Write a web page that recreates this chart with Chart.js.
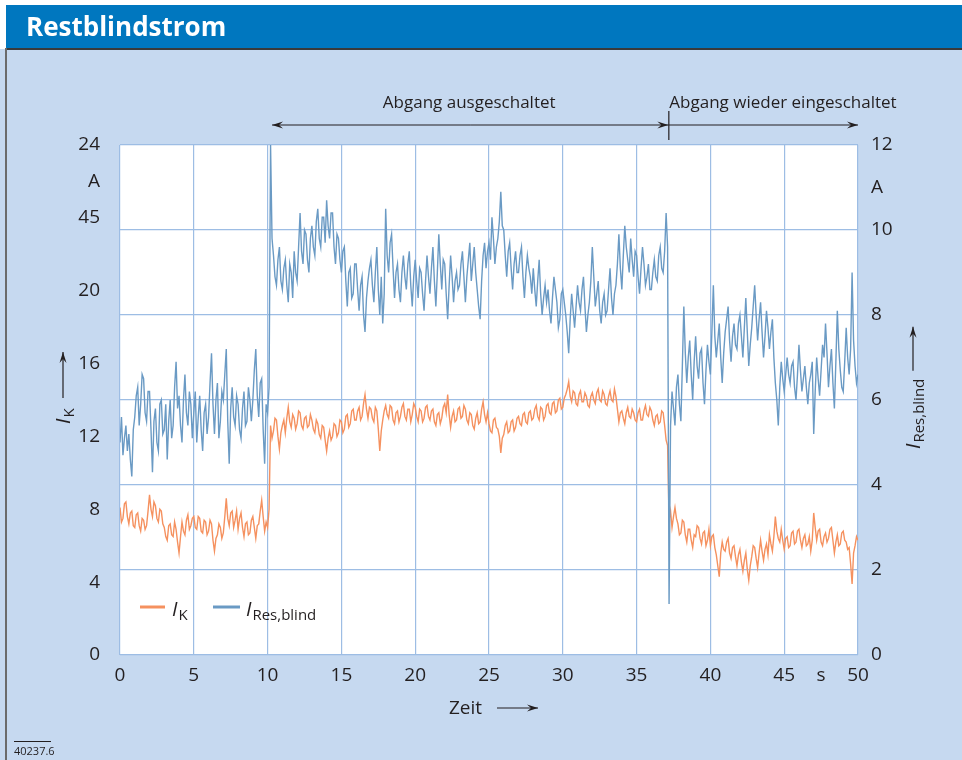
<!DOCTYPE html>
<html>
<head>
<meta charset="utf-8">
<script src="https://cdn.jsdelivr.net/npm/chart.js@4.4.1/dist/chart.umd.min.js"></script>
<style>
  html, body { margin: 0; padding: 0; overflow: hidden; background: #c6d9f0; }
  #wrap { width: 962px; height: 760px; position: relative; }
</style>
</head>
<body>
<div id="wrap"><canvas id="grafico"></canvas></div>
<script>
// Abtastschritt der Messung in s
const zeitSchritt = 0.1;

// I_Res,blind in A (rechte Achse), eine Zeile je Sekunde
const iResBlind = [
  5.0, 5.6, 4.7, 5.1, 5.4, 4.8, 5.2, 4.6, 4.2, 5.3,
  5.6, 6.1, 6.3, 5.4, 5.9, 6.6, 6.5, 5.7, 5.5, 6.2,
  6.2, 5.3, 4.3, 5.5, 5.8, 5.0, 4.8, 5.9, 6.0, 5.2,
  5.3, 5.9, 4.6, 5.5, 6.0, 5.1, 5.4, 6.3, 6.9, 5.8,
  6.1, 5.4, 5.0, 6.0, 6.6, 5.7, 5.4, 6.2, 5.9, 5.1,
  5.7, 6.2, 5.0, 5.6, 6.1, 5.3, 4.8, 5.7, 5.9, 5.2,
  5.6, 6.4, 7.1, 5.9, 5.2, 6.0, 6.4, 5.1, 5.5, 6.2,
  6.0, 6.6, 7.2, 5.5, 4.5, 5.8, 6.3, 5.6, 5.4, 6.1,
  5.9, 5.3, 5.1, 5.8, 6.2, 5.4, 5.5, 6.3, 6.0, 5.5,
  6.0, 6.7, 7.2, 6.1, 5.6, 6.4, 6.5, 5.3, 4.5, 5.9,
  5.7, 6.3, 12.0, 9.8, 9.4, 8.9, 8.7, 9.3, 9.6, 8.8,
  8.6, 9.1, 9.3, 8.7, 8.3, 9.2, 9.0, 8.4, 9.5, 9.0,
  8.8, 9.6, 10.4, 9.5, 9.2, 10.0, 9.9, 9.3, 9.0, 9.8,
  10.1, 9.6, 9.4, 10.2, 10.5, 9.8, 9.6, 10.3, 10.3, 9.7,
  10.7, 10.1, 9.8, 10.4, 10.4, 9.6, 9.2, 9.9, 9.8, 9.3,
  9.0, 9.5, 9.6, 8.8, 8.2, 9.0, 9.1, 8.4, 8.5, 9.2,
  9.2, 8.6, 8.1, 8.7, 8.9, 8.0, 7.6, 8.4, 8.8, 9.1,
  9.3, 8.7, 8.3, 9.0, 9.6, 8.6, 8.0, 8.9, 7.8, 8.5,
  10.5, 9.4, 9.0, 9.7, 9.9, 9.1, 8.4, 9.0, 9.2, 8.6,
  8.3, 9.0, 9.4, 8.9, 8.6, 9.2, 9.5, 8.7, 8.2, 8.9,
  9.3, 8.8, 8.4, 9.1, 9.0, 8.5, 8.1, 8.8, 9.4, 8.9,
  8.5, 9.1, 9.6, 8.8, 8.2, 9.0, 9.9, 9.2, 8.6, 9.3,
  9.2, 8.5, 7.9, 8.7, 9.4, 8.9, 8.3, 8.8, 9.0, 8.6,
  8.7, 9.2, 9.5, 8.9, 8.3, 8.9, 9.3, 9.7, 8.8, 9.2,
  9.6, 9.0, 8.6, 8.2, 7.9, 8.8, 9.4, 9.7, 9.1, 9.5,
  9.7, 9.3, 10.3, 9.8, 9.2, 9.6, 9.8, 10.2, 10.9, 10.1,
  10.0, 9.4, 8.9, 9.5, 9.7, 9.1, 8.6, 9.2, 9.5, 9.0,
  9.0, 9.4, 9.6, 8.9, 8.4, 9.0, 9.4, 9.1, 8.9, 8.5,
  9.1, 8.6, 8.2, 8.8, 9.3, 8.5, 8.0, 8.4, 8.7, 8.3,
  8.6, 8.1, 7.8, 8.4, 8.9, 8.6, 8.3, 7.7, 7.9, 8.5,
  8.6, 8.3, 8.0, 7.6, 7.1, 7.9, 8.5, 8.1, 7.7, 8.2,
  8.7, 8.3, 8.1, 8.6, 8.9, 8.2, 7.6, 8.0, 8.3, 8.8,
  9.6, 8.9, 8.2, 8.5, 8.8, 8.1, 7.8, 8.3, 8.5, 8.0,
  8.1, 8.6, 9.1, 8.4, 8.0, 8.5, 8.7, 9.2, 9.9, 9.1,
  8.6, 9.4, 10.1, 9.6, 9.3, 9.0, 9.8, 9.3, 8.9, 9.5,
  9.4, 8.9, 8.5, 9.1, 9.6, 9.2, 8.7, 8.9, 9.2, 8.6,
  8.6, 9.0, 9.3, 8.9, 8.8, 9.4, 9.6, 9.1, 9.0, 9.5,
  10.4, 9.6, 1.2, 5.4, 6.2, 5.8, 5.4, 6.3, 6.6, 5.9,
  5.5, 6.8, 8.2, 7.1, 6.4, 7.0, 7.4, 6.6, 6.0, 6.9,
  7.5, 6.8, 6.5, 7.1, 7.2, 6.4, 5.9, 6.7, 7.3, 6.9,
  6.6, 7.6, 8.7, 7.5, 7.0, 7.4, 7.8, 7.0, 6.4, 7.1,
  7.6, 7.9, 8.2, 7.4, 6.9, 7.5, 7.8, 7.3, 7.2, 7.8,
  8.0, 7.5, 7.0, 7.7, 8.4, 7.6, 6.8, 7.3, 7.7, 8.2,
  8.7, 8.0, 7.4, 7.9, 8.3, 7.6, 7.0, 7.5, 8.1, 7.7,
  7.2, 7.6, 7.9, 7.0, 6.4, 6.0, 5.4, 6.3, 6.9, 6.5,
  6.2, 6.6, 7.0, 6.6, 6.4, 6.8, 6.9, 6.3, 6.0, 6.6,
  7.3, 6.7, 6.2, 6.5, 6.8, 6.3, 5.9, 6.4, 6.6, 6.9,
  5.2, 6.2, 7.0, 6.5, 6.1, 6.7, 7.3, 7.0, 7.8, 7.1,
  6.3, 6.8, 7.2, 6.4, 5.8, 6.9, 8.1, 7.2, 6.7, 6.3,
  6.2, 6.9, 7.7, 7.0, 6.6, 7.2, 9.0, 7.4, 6.8, 6.4,
  6.6
];

// I_K in A (linke Achse), eine Zeile je Sekunde
const iK = [
  8.1, 7.3, 7.5, 8.3, 8.4, 7.6, 7.2, 7.8, 7.9, 7.1,
  7.0, 7.7, 7.8, 7.1, 6.8, 7.5, 7.4, 6.9, 7.1, 7.9,
  8.8, 8.0, 7.6, 8.4, 8.2, 7.5, 7.3, 8.0, 7.9, 7.2,
  7.0, 6.5, 6.3, 7.1, 7.2, 6.6, 6.5, 7.3, 6.9, 6.2,
  5.6, 6.5, 7.3, 6.8, 6.6, 7.4, 7.7, 6.9, 7.1, 7.5,
  7.6, 7.0, 6.9, 7.6, 7.5, 6.8, 6.7, 7.4, 7.3, 6.6,
  6.8, 7.4, 7.2, 6.3, 5.7, 6.4, 6.6, 7.2, 7.0, 6.4,
  6.7, 7.6, 8.6, 7.5, 7.1, 7.8, 7.9, 7.0, 7.4, 7.9,
  6.9, 7.5, 7.8, 7.0, 6.5, 7.2, 7.3, 6.6, 6.7, 7.4,
  7.6, 7.0, 6.4, 7.1, 7.2, 7.9, 8.5, 7.6, 6.8, 7.3,
  7.0, 8.0, 12.6, 11.9, 12.3, 13.0, 12.9, 12.0, 11.3, 12.2,
  12.6, 12.9, 12.2, 13.0, 13.6, 12.8, 12.5, 13.2, 13.0, 12.4,
  12.7, 13.4, 13.3, 12.6, 12.4, 13.0, 13.1, 12.5, 12.6, 13.2,
  12.9, 12.4, 12.2, 12.9, 12.7, 12.1, 11.9, 12.6, 12.5, 11.8,
  11.2, 11.9, 12.3, 11.8, 12.0, 12.7, 12.6, 12.0, 12.2, 12.9,
  12.8, 12.2, 12.4, 13.1, 13.2, 12.5, 12.7, 13.4, 13.5, 12.9,
  12.9, 13.4, 13.6, 12.9, 13.1, 13.8, 14.3, 13.5, 13.0, 13.6,
  13.5, 13.0, 12.8, 13.6, 13.4, 12.4, 11.2, 12.3, 12.9, 13.4,
  13.7, 13.2, 13.0, 13.7, 13.6, 12.9, 12.7, 13.3, 13.4, 12.8,
  13.1, 13.6, 13.8, 13.1, 12.9, 13.5, 13.5, 12.8, 13.2, 13.8,
  13.6, 13.1, 12.8, 13.5, 13.4, 12.8, 13.0, 13.6, 13.7, 13.1,
  12.9, 13.4, 13.5, 12.8, 12.6, 13.2, 13.3, 12.7, 13.0, 13.6,
  13.8, 13.3, 14.3, 13.2, 12.5, 13.1, 13.4, 12.8, 12.9, 13.5,
  13.6, 13.0, 13.1, 13.7, 13.5, 12.9, 12.7, 13.3, 13.2, 12.6,
  12.4, 13.0, 13.3, 12.7, 12.8, 13.5, 13.9, 13.2, 12.8, 13.3,
  12.7, 12.3, 12.2, 12.9, 13.0, 12.5, 12.4, 12.0, 11.1, 11.9,
  12.1, 12.6, 12.8, 12.2, 12.3, 12.8, 12.9, 12.3, 12.5, 13.0,
  13.1, 12.7, 12.6, 13.2, 13.3, 12.8, 12.7, 13.3, 13.4, 12.9,
  13.0, 13.5, 13.7, 13.1, 12.9, 13.6, 13.5, 12.9, 13.1, 13.7,
  13.8, 13.3, 13.2, 13.8, 13.9, 13.3, 13.4, 14.0, 14.1, 13.5,
  13.6, 14.1, 14.3, 14.6, 15.0, 14.2, 13.9, 14.5, 14.4, 13.8,
  13.7, 14.3, 14.5, 13.9, 13.9, 14.4, 14.2, 13.7, 13.6, 14.2,
  14.4, 14.0, 13.8, 14.4, 14.6, 14.0, 13.9, 14.5, 14.3, 13.8,
  13.7, 14.2, 14.5, 14.0, 13.9, 14.6, 14.2, 13.5, 12.8, 13.3,
  13.4, 13.0, 12.7, 13.3, 13.6, 13.1, 13.0, 13.5, 13.3, 12.9,
  12.8, 13.3, 13.5, 12.9, 12.9, 13.4, 13.7, 13.2, 13.1, 13.6,
  13.4, 12.9, 12.6, 13.1, 13.2, 12.7, 12.8, 13.4, 13.3, 12.6,
  11.8, 11.5, 7.4, 7.9, 7.0, 7.6, 8.1, 7.5, 7.2, 6.6,
  6.7, 7.4, 7.3, 6.6, 6.2, 6.9, 6.9, 6.3, 5.9, 6.6,
  6.5, 7.1, 7.0, 6.4, 6.1, 6.7, 6.8, 6.0, 6.3, 6.9,
  6.0, 6.5, 6.6, 5.9, 5.5, 4.9, 4.3, 5.6, 6.2, 5.8,
  5.7, 6.2, 6.4, 5.6, 5.3, 5.9, 6.0, 5.4, 4.9, 5.5,
  5.8, 5.1, 4.6, 5.2, 5.6, 4.7, 4.1, 4.9, 5.4, 6.0,
  5.9, 5.3, 4.8, 5.6, 6.3, 5.7, 5.2, 5.8, 6.1, 5.5,
  6.6, 6.1, 5.7, 6.5, 7.6, 6.8, 6.4, 6.2, 6.9, 6.3,
  5.8, 6.4, 6.5, 5.9, 6.0, 6.7, 6.8, 6.1, 6.2, 6.8,
  6.9, 6.3, 5.9, 6.4, 6.6, 6.0, 6.1, 6.5, 5.7, 6.3,
  7.8, 7.0, 6.3, 6.8, 6.9, 6.2, 6.0, 6.5, 6.7, 6.2,
  6.4, 6.9, 7.0, 6.3, 5.6, 6.2, 6.6, 6.0, 6.1, 6.7,
  6.8, 6.3, 6.2, 5.8, 5.9, 5.0, 3.9, 5.6, 6.0, 6.5,
  6.3
];

const titel = 'Restblindstrom';
const abschnittAus = 'Abgang ausgeschaltet';
const abschnittEin = 'Abgang wieder eingeschaltet';
const zeitAus = 10.3;   // s, Beginn Abschaltung
const zeitEin = 37.15;  // s, Wiedereinschaltung

const schrift = '"Open Sans", "DejaVu Sans", sans-serif';
const textFarbe = '#231f20';
const gitterFarbe = '#9dbde4';
const farbeK = '#f5915f';
const farbeRes = '#6a9ac4';

function punkte(werte) {
  return werte.map((v, i) => ({ x: +(i * zeitSchritt).toFixed(2), y: v }));
}

function pfeil(ctx, x1, y1, x2, y2) {
  const a = Math.atan2(y2 - y1, x2 - x1);
  ctx.beginPath();
  ctx.moveTo(x1, y1);
  ctx.lineTo(x2, y2);
  ctx.stroke();
  ctx.beginPath();
  ctx.moveTo(x2, y2);
  ctx.lineTo(x2 - 11 * Math.cos(a) + 3.5 * Math.sin(a), y2 - 11 * Math.sin(a) - 3.5 * Math.cos(a));
  ctx.lineTo(x2 - 7 * Math.cos(a), y2 - 7 * Math.sin(a));
  ctx.lineTo(x2 - 11 * Math.cos(a) - 3.5 * Math.sin(a), y2 - 11 * Math.sin(a) + 3.5 * Math.cos(a));
  ctx.closePath();
  ctx.fill();
}

// I mit Index, gibt Breite zurueck
function formelzeichen(ctx, x, y, index) {
  ctx.textAlign = 'left';
  ctx.textBaseline = 'alphabetic';
  ctx.font = 'italic 20px ' + schrift;
  ctx.fillText('I', x, y);
  const wI = ctx.measureText('I').width + 1;
  ctx.font = '15px ' + schrift;
  ctx.fillText(index, x + wI, y + 4);
  return wI + ctx.measureText(index).width;
}

const deko = {
  id: 'deko',
  beforeDraw(chart) {
    const ctx = chart.ctx;
    const ca = chart.chartArea;
    ctx.save();
    ctx.fillStyle = '#c6d9f0';
    ctx.fillRect(0, 0, chart.width, chart.height);
    ctx.fillStyle = '#ffffff';
    ctx.fillRect(0, 0, chart.width, 5);
    ctx.fillRect(0, 0, 6, 49);
    ctx.fillStyle = '#0077bf';
    ctx.fillRect(6, 5, chart.width - 6, 43);
    ctx.fillStyle = '#3a3a3a';
    ctx.fillRect(6, 48, chart.width - 6, 2);
    ctx.fillStyle = '#6b6b6b';
    ctx.fillRect(5, 48, 2, chart.height - 48);
    ctx.fillStyle = '#ffffff';
    ctx.fillRect(ca.left, ca.top, ca.right - ca.left, ca.bottom - ca.top);
    ctx.font = 'bold 26px ' + schrift;
    ctx.textBaseline = 'alphabetic';
    ctx.fillText(titel, 26, 36);
    ctx.restore();
  },
  afterDraw(chart) {
    const ctx = chart.ctx;
    const xs = chart.scales.x;
    const ca = chart.chartArea;
    ctx.save();
    ctx.fillStyle = textFarbe;
    ctx.strokeStyle = textFarbe;
    ctx.lineWidth = 1.2;

    // Abschnitte oben
    const xa = xs.getPixelForValue(zeitAus);
    const xe = xs.getPixelForValue(zeitEin);
    const yp = 125;
    pfeil(ctx, (xa + xe) / 2, yp, xa, yp);
    pfeil(ctx, (xa + xe) / 2, yp, xe, yp);
    pfeil(ctx, xe, yp, ca.right, yp);
    ctx.beginPath();
    ctx.moveTo(xe + 0.5, 111);
    ctx.lineTo(xe + 0.5, 140);
    ctx.stroke();
    ctx.font = '17px ' + schrift;
    ctx.textBaseline = 'alphabetic';
    ctx.textAlign = 'center';
    ctx.fillText(abschnittAus, (xa + xe) / 2 - 1, 108);
    ctx.textAlign = 'left';
    ctx.fillText(abschnittEin, xe + 1, 108);

    // Legende
    ctx.lineWidth = 3;
    ctx.strokeStyle = farbeK;
    ctx.beginPath(); ctx.moveTo(140, 607); ctx.lineTo(165, 607); ctx.stroke();
    ctx.strokeStyle = farbeRes;
    ctx.beginPath(); ctx.moveTo(213, 607); ctx.lineTo(240, 607); ctx.stroke();
    ctx.fillStyle = textFarbe;
    formelzeichen(ctx, 172, 616, 'K');
    formelzeichen(ctx, 246, 616, 'Res,blind');

    // Achsentitel links
    ctx.strokeStyle = textFarbe;
    ctx.lineWidth = 1.2;
    ctx.save();
    ctx.translate(70, 424);
    ctx.rotate(-Math.PI / 2);
    formelzeichen(ctx, 0, 0, 'K');
    pfeil(ctx, 26, -7, 72, -7);
    ctx.restore();

    // Achsentitel rechts
    ctx.save();
    ctx.translate(920, 449);
    ctx.rotate(-Math.PI / 2);
    const w = formelzeichen(ctx, 0, 0, 'Res,blind');
    pfeil(ctx, w + 8, -7, w + 52, -7);
    ctx.restore();

    // Achsentitel unten
    ctx.font = '19px ' + schrift;
    ctx.textAlign = 'left';
    ctx.fillText('Zeit', 449, 714);
    pfeil(ctx, 497, 708, 538, 708);

    // Bildnummer
    ctx.font = '11px ' + schrift;
    ctx.fillText('40237.6', 14, 755);
    ctx.lineWidth = 1;
    ctx.beginPath(); ctx.moveTo(14, 741.5); ctx.lineTo(51, 741.5); ctx.stroke();
    ctx.restore();
  }
};

new Chart(document.getElementById('grafico'), {
  type: 'line',
  data: {
    datasets: [
      { label: 'I Res,blind', data: punkte(iResBlind), yAxisID: 'yr',
        borderColor: farbeRes, borderWidth: 1.4, pointRadius: 0, tension: 0 },
      { label: 'I K', data: punkte(iK), yAxisID: 'yl',
        borderColor: farbeK, borderWidth: 1.4, pointRadius: 0, tension: 0 }
    ]
  },
  options: {
    responsive: true,
    maintainAspectRatio: false,
    animation: false,
    events: [],
    layout: { padding: { top: 145, left: 0, right: 0, bottom: 0 } },
    plugins: { legend: { display: false }, tooltip: { enabled: false } },
    scales: {
      x: {
        type: 'linear', min: 0, max: 50,
        afterFit: s => { s.height = 105; },
        border: { display: false },
        grid: { drawTicks: false, lineWidth: 1.2,
          color: c => (c.tick && c.tick.value % 5 === 0) ? gitterFarbe : 'rgba(0,0,0,0)' },
        ticks: { stepSize: 2.5, autoSkip: false, maxRotation: 0, padding: 9,
          color: textFarbe, font: { family: schrift, size: 19 },
          callback: v => v === 47.5 ? 's' : (v % 5 === 0 ? String(v) : '') }
      },
      yl: {
        position: 'left', min: 0, max: 28,
        afterFit: s => { s.width = 120; },
        border: { display: false },
        grid: { display: false },
        ticks: { stepSize: 2, autoSkip: false, padding: 12,
          color: textFarbe, font: { family: schrift, size: 19 },
          callback: v => v === 28 ? '24' : v === 26 ? 'A' : v === 24 ? '45' : (v % 4 === 0 ? String(v) : '') }
      },
      yr: {
        position: 'right', min: 0, max: 12,
        afterFit: s => { s.width = 104; },
        border: { display: false },
        grid: { drawTicks: false, lineWidth: 1.2,
          color: c => (c.tick && c.tick.value % 2 === 0) ? gitterFarbe : 'rgba(0,0,0,0)' },
        ticks: { stepSize: 1, autoSkip: false, padding: 13,
          color: textFarbe, font: { family: schrift, size: 19 },
          callback: v => v === 11 ? 'A' : (v % 2 === 0 ? String(v) : '') }
      }
    }
  },
  plugins: [deko]
});
</script>
</body>
</html>
